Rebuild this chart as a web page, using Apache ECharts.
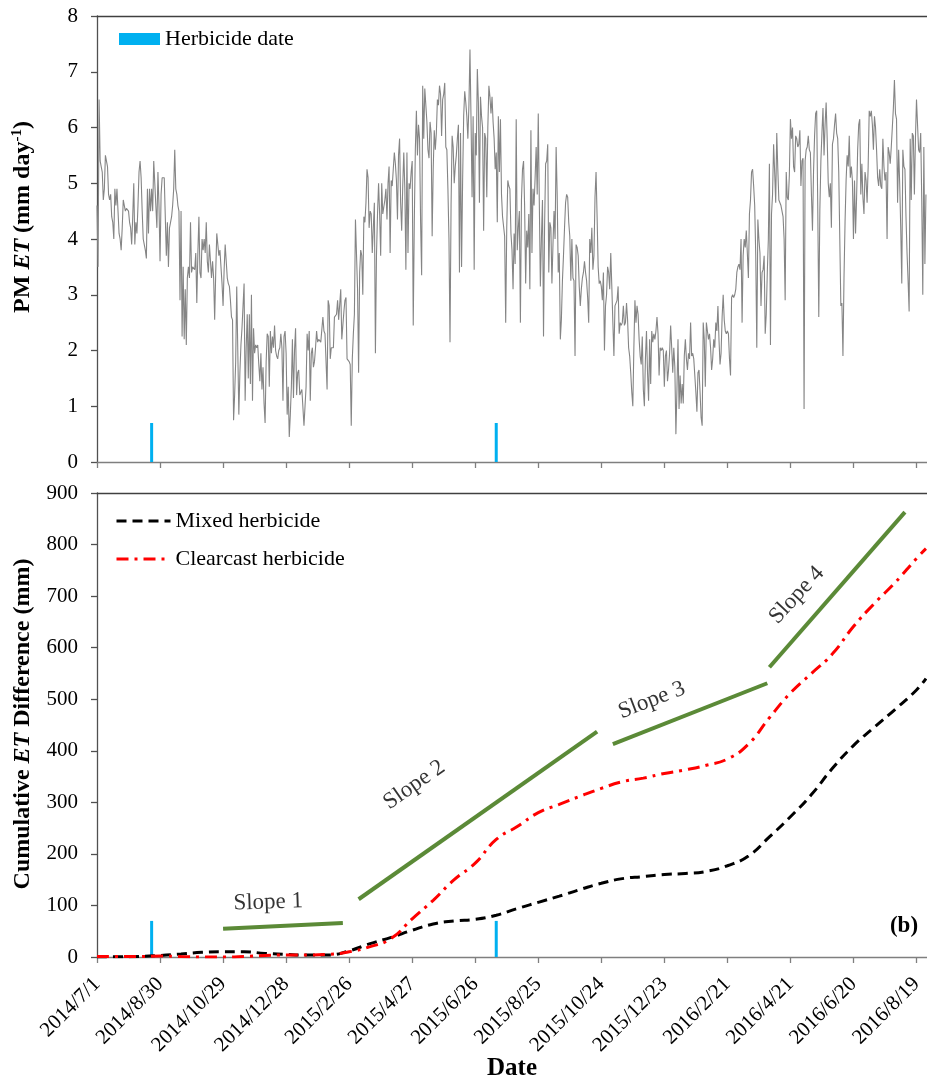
<!DOCTYPE html>
<html>
<head>
<meta charset="utf-8">
<script src="https://cdn.jsdelivr.net/npm/echarts@6/dist/echarts.min.js"></script>
<style>
html, body { margin: 0; padding: 0; background: #ffffff; }
#chart { width: 927px; height: 1080px; }
</style>
</head>
<body>
<div id="chart"></div>
<script>
// ---- data -------------------------------------------------------------
const startDate = '2014/7/1';

const xTickLabels = ['2014/7/1', '2014/8/30', '2014/10/29', '2014/12/28', '2015/2/26',
  '2015/4/27', '2015/6/26', '2015/8/25', '2015/10/24', '2015/12/23', '2016/2/21',
  '2016/4/21', '2016/6/20', '2016/8/19'];

// Daily Penman-Monteith ET (mm/day), one value per day from 2014/7/1
const pmEt = [
  4.6,3.5,6.5,5.4,5.3,5.2,4.7,4.9,5.5,5.5,
  5.3,4.8,4.7,4.8,4.4,4.3,4.0,4.9,4.6,4.9,
  4.5,4.1,4.0,3.8,4.2,4.7,4.6,4.5,4.55,4.55,
  4.5,4.3,4.2,3.9,4.4,5.0,3.9,4.3,4.1,4.6,
  5.2,5.4,5.1,4.5,4.0,3.9,3.8,3.65,4.9,4.1,
  4.9,4.5,4.9,4.5,5.4,5.0,4.6,4.2,5.2,4.6,
  3.6,4.8,5.1,5.1,5.1,5.1,3.7,4.3,3.5,4.2,
  4.3,4.4,4.6,4.9,5.6,4.9,4.8,4.6,4.5,2.9,
  4.5,2.25,3.5,2.2,3.1,2.1,3.3,3.5,3.3,4.3,
  3.4,3.5,3.5,3.45,3.75,2.85,3.75,4.4,3.4,3.3,
  4.0,3.8,4.0,3.75,4.3,3.6,3.4,3.9,3.9,3.3,
  3.6,3.3,2.55,3.4,4.1,4.1,3.7,3.8,3.5,3.2,
  2.8,3.45,3.9,3.6,3.3,3.2,3.15,2.9,2.6,2.55,
  0.75,1.2,1.8,3.15,3.15,0.85,1.6,2.1,2.4,2.4,
  3.2,1.1,2.05,2.65,1.5,2.65,1.4,3.0,1.1,2.4,
  1.95,2.1,2.05,2.1,1.75,1.45,1.95,1.3,1.7,1.05,
  0.7,1.8,2.3,2.25,1.35,2.35,1.95,2.25,2.05,2.45,
  2.0,1.9,1.85,2.0,2.05,2.3,2.05,1.1,2.25,2.35,
  1.95,0.85,1.35,0.45,0.85,1.35,2.2,1.15,2.0,2.4,
  1.2,1.6,1.65,1.2,1.25,1.3,1.3,0.65,1.0,1.35,
  2.3,2.0,2.35,1.1,1.95,2.05,1.7,1.8,2.05,2.35,
  2.15,2.2,2.2,2.15,2.15,2.6,2.35,2.3,2.3,1.3,
  2.9,2.8,1.85,2.05,2.05,2.05,2.6,2.6,2.65,2.9,
  2.55,2.55,3.1,2.2,2.45,2.7,2.9,2.95,1.85,1.85,
  1.8,1.75,0.65,1.85,2.3,2.65,4.35,4.35,3.1,1.6,
  3.4,3.8,3.7,3.0,4.4,4.3,4.65,5.25,5.1,4.2,
  4.5,4.45,3.75,4.2,4.65,1.95,3.7,4.45,5.0,4.45,
  3.7,5.0,4.45,4.45,4.7,4.9,4.35,5.0,5.3,3.75,
  5.05,4.95,5.25,5.55,5.35,5.05,4.35,5.5,5.8,4.65,
  4.15,4.95,5.55,4.9,3.45,5.55,3.75,5.0,4.9,5.2,
  5.4,2.45,4.3,5.6,6.3,5.5,6.05,5.8,4.3,3.35,
  6.75,5.8,6.7,6.4,6.1,5.6,5.45,6.1,5.9,4.05,
  5.25,5.95,5.6,5.9,6.5,6.4,6.75,6.6,5.85,6.5,
  6.6,6.8,5.65,5.6,4.9,4.0,2.15,4.6,5.85,5.65,
  5.0,5.3,5.5,5.8,6.05,3.4,5.9,3.5,5.05,6.2,
  6.65,6.45,6.2,5.8,6.4,7.4,6.15,4.75,6.2,3.45,
  5.9,5.5,7.05,6.45,4.65,6.55,6.2,6.0,4.15,5.9,
  5.8,4.75,6.0,6.75,6.55,6.25,6.55,6.1,5.8,5.25,
  5.55,4.3,6.2,5.2,6.15,4.8,4.4,4.4,4.05,2.5,
  4.2,5.05,4.95,4.9,4.1,3.8,3.1,4.1,3.55,6.15,
  3.8,4.2,4.5,2.5,4.7,5.25,5.4,4.6,3.2,4.15,
  3.85,4.45,3.1,5.95,3.75,4.9,4.6,5.1,5.65,4.8,
  6.25,4.65,3.15,4.0,4.7,2.25,4.2,5.35,5.4,5.7,
  3.4,4.3,4.2,3.2,3.9,4.5,4.0,5.65,4.8,3.4,
  3.75,2.2,2.55,3.25,3.7,4.2,4.65,4.8,4.75,4.3,
  4.05,3.25,4.0,3.3,3.25,1.9,3.9,3.85,3.7,3.15,
  2.8,3.1,3.3,3.4,3.6,3.4,3.25,2.95,2.5,4.0,
  3.75,4.2,3.45,3.7,4.75,5.2,4.4,3.5,3.2,3.25,
  3.15,2.9,3.4,2.0,2.8,3.0,3.5,3.4,3.1,3.75,
  3.15,2.5,1.9,2.8,2.85,2.9,3.15,2.3,2.5,2.45,
  2.5,2.8,2.45,2.5,2.85,2.55,2.05,1.9,1.6,1.25,
  1.0,2.05,2.9,2.5,2.8,2.65,2.2,1.9,1.75,2.25,
  1.3,1.0,1.85,2.35,1.6,1.1,2.2,1.4,2.35,2.15,
  2.3,2.2,2.35,2.6,2.3,1.55,2.05,2.0,2.05,2.0,
  1.35,1.9,2.0,1.45,1.65,1.95,2.45,2.05,1.6,2.05,
  1.7,0.5,1.3,2.2,0.95,1.55,1.05,1.4,1.05,1.9,
  2.2,1.85,1.65,1.95,1.85,2.5,1.9,1.95,1.85,1.55,
  1.25,0.9,1.6,1.65,1.25,0.8,0.65,2.5,2.2,1.35,
  2.5,2.35,2.2,2.3,2.05,1.65,1.85,2.2,2.05,2.5,
  2.35,2.8,2.2,1.75,1.95,2.6,3.0,2.55,2.35,2.3,
  2.35,2.3,1.85,1.55,2.95,3.0,2.95,3.0,3.1,3.4,
  3.5,3.55,3.45,4.0,2.5,3.7,4.0,3.85,4.15,3.75,
  3.3,4.45,4.7,5.2,5.25,4.95,4.6,3.7,2.05,4.35,
  4.0,3.75,2.8,3.4,3.45,3.7,2.3,2.65,3.4,4.0,
  5.35,2.1,4.45,4.8,5.7,5.2,4.65,5.9,5.25,4.7,
  4.65,4.6,4.5,4.4,4.0,2.9,5.2,4.75,4.7,5.15,
  6.15,5.8,6.0,5.3,5.2,5.85,5.8,5.65,5.7,5.95,
  4.95,5.4,5.45,0.95,5.4,5.6,5.65,5.85,5.6,5.55,
  4.8,4.15,5.2,5.85,6.25,6.3,4.6,2.6,4.5,5.4,
  5.9,6.35,5.5,6.05,6.45,5.8,5.0,4.75,5.0,4.2,
  5.7,5.8,6.05,6.25,5.9,5.8,5.2,4.0,2.8,2.85,
  1.9,3.3,4.3,5.05,5.5,5.3,5.85,5.1,5.3,5.05,
  4.0,5.05,4.1,4.75,5.6,6.05,6.15,4.8,5.35,4.75,
  4.45,5.2,5.05,4.65,5.3,6.3,6.2,6.3,6.05,5.6,
  6.2,6.0,5.6,5.1,4.95,5.25,4.95,4.9,5.8,5.3,
  5.05,5.2,4.0,5.65,5.55,5.35,5.65,6.0,6.35,6.85,
  6.25,6.15,4.65,5.6,5.0,4.2,3.2,5.6,5.3,5.25,
  4.4,3.75,3.25,2.7,5.8,4.7,5.9,5.85,4.8,5.8,
  6.5,6.05,5.6,5.55,5.9,4.7,3.0,5.65,3.55,4.8
];

// Herbicide application dates and the height of their markers in each panel
const herbicideDates = ['2014/8/22', '2015/7/16'];
const herbicideMarkEt = 0.7;
const herbicideMarkCum = 70;

// Cumulative ET difference (mm), sampled in days since 2014/7/1
const cumDays = [0, 20, 40, 60, 80, 100, 120, 140, 160, 180, 200, 220, 240, 260, 280, 300,
  320, 340, 360, 380, 400, 420, 440, 460, 480, 500, 520, 540, 560, 580, 600, 620, 640, 660,
  680, 700, 720, 740, 760, 780, 789];
const mixedCum = [0, 0.5, 1, 3, 6, 9, 10, 10, 7, 5, 4, 4, 12, 26, 38, 52, 64, 70, 73, 81,
  94, 106, 118, 131, 143, 152, 156, 160, 162, 166, 177, 196, 233, 272, 315, 366, 410, 446,
  481, 518, 540];
const clearcastCum = [1, 1, 1, 2, 1, 0, 0, 1, 3, 4, 4, 5, 10, 20, 36, 74, 110, 150, 182,
  228, 253, 280, 296, 312, 327, 340, 347, 356, 363, 372, 384, 413, 464, 512, 550, 588, 641,
  686, 727, 773, 792];

// Fitted slope segments: [day, mm] at start and end, plus the spot of each label
const slopeNames = ['Slope 1', 'Slope 2', 'Slope 3', 'Slope 4'];
const slopeStart = [[120, 55], [249, 112], [491, 413], [640, 562]];
const slopeEnd = [[234, 66], [476, 437], [638, 531], [769, 863]];
const slopeLabelAt = [[163, 106], [302, 334], [528, 498], [666, 702]];

// ---- helpers ----------------------------------------------------------
const DAY_MS = 86400000;
function toUTC(s) { const p = s.split('/').map(Number); return Date.UTC(p[0], p[1] - 1, p[2]); }
const t0 = toUTC(startDate);
function dayOf(s) { return Math.round((toUTC(s) - t0) / DAY_MS); }
function dateOf(day) {
  const d = new Date(t0 + Math.round(day) * DAY_MS);
  return d.getUTCFullYear() + '/' + (d.getUTCMonth() + 1) + '/' + d.getUTCDate();
}

// ---- chart ------------------------------------------------------------
const FONT = 'Liberation Serif';
const X_MAX = 790;
const tickDays = xTickLabels.map(dayOf);
const herbDays = herbicideDates.map(dayOf);
const slopeLabelAngle = [2, 35, 21, 47];
const GREEN = '#5b8a37';

function dateAxis(gridIndex, withLabels) {
  return {
    type: 'value', gridIndex: gridIndex, min: 0, max: X_MAX, interval: 60,
    axisLine: { show: true, onZero: false, lineStyle: { color: '#7f7f7f', width: 1.3 } },
    axisTick: { show: true, length: 6, customValues: tickDays, lineStyle: { color: '#7f7f7f', width: 1.3 } },
    axisLabel: withLabels ? {
      show: true, customValues: tickDays, rotate: 45, margin: 24,
      formatter: function (v) { return dateOf(v); },
      fontFamily: FONT, fontSize: 21, color: '#000'
    } : { show: false },
    splitLine: { show: false },
    name: withLabels ? 'Date' : '',
    nameLocation: 'middle', nameGap: 99, nameMoveOverlap: false,
    nameTextStyle: { fontFamily: FONT, fontSize: 25, fontWeight: 'bold', color: '#000' }
  };
}
function frameAxis(gridIndex) {
  return {
    type: 'value', gridIndex: gridIndex, position: 'top', min: 0, max: X_MAX,
    axisLine: { show: true, onZero: false, lineStyle: { color: '#404040', width: 1.3 } },
    axisTick: { show: false }, axisLabel: { show: false }, splitLine: { show: false }
  };
}
function valueAxis(gridIndex, max, interval, margin) {
  return {
    type: 'value', gridIndex: gridIndex, min: 0, max: max, interval: interval,
    axisLine: { show: true, lineStyle: { color: '#505050', width: 1.3 } },
    axisTick: { show: true, length: 6, lineStyle: { color: '#505050', width: 1.3 } },
    axisLabel: { fontFamily: FONT, fontSize: 21, color: '#000', margin: margin },
    splitLine: { show: false }
  };
}

const richTitle = {
  b: { fontFamily: FONT, fontSize: 24, fontWeight: 'bold', color: '#000', lineHeight: 26 },
  bi: { fontFamily: FONT, fontSize: 24, fontWeight: 'bold', fontStyle: 'italic', color: '#000', lineHeight: 26 },
  s: { fontFamily: FONT, fontSize: 15, fontWeight: 'bold', color: '#000', verticalAlign: 'top', lineHeight: 26 }
};

const series = [
  {
    name: 'PM ET', type: 'line', xAxisIndex: 0, yAxisIndex: 0, symbol: 'none',
    data: pmEt.map(function (v, i) { return [i, v]; }),
    lineStyle: { color: '#858585', width: 1.1 }, z: 2
  },
  {
    name: 'Herbicide date', type: 'bar', xAxisIndex: 0, yAxisIndex: 0, barWidth: 3,
    data: herbDays.map(function (d) { return [d, herbicideMarkEt]; }),
    itemStyle: { color: '#00b0f0' }, z: 3
  },
  {
    name: 'Herbicide date', type: 'bar', xAxisIndex: 2, yAxisIndex: 1, barWidth: 3,
    data: herbDays.map(function (d) { return [d, herbicideMarkCum]; }),
    itemStyle: { color: '#00b0f0' }, z: 3
  },
  {
    name: 'Mixed herbicide', type: 'line', xAxisIndex: 2, yAxisIndex: 1, symbol: 'none',
    smooth: 0.5,
    data: cumDays.map(function (d, i) { return [d, mixedCum[i]]; }),
    lineStyle: { color: '#000000', width: 3, type: [10, 6] }, itemStyle: { color: '#000000' }, z: 4
  },
  {
    name: 'Clearcast herbicide', type: 'line', xAxisIndex: 2, yAxisIndex: 1, symbol: 'none',
    smooth: 0.5,
    data: cumDays.map(function (d, i) { return [d, clearcastCum[i]]; }),
    lineStyle: { color: '#ff0000', width: 3, type: [12, 6, 3, 6] }, itemStyle: { color: '#ff0000' }, z: 4
  }
];
slopeNames.forEach(function (n, i) {
  series.push({
    name: n, type: 'line', xAxisIndex: 2, yAxisIndex: 1, symbol: 'none',
    data: [slopeStart[i], slopeEnd[i]],
    lineStyle: { color: GREEN, width: 4 }, z: 5
  });
});
series.push({
  name: 'slope labels', type: 'scatter', xAxisIndex: 2, yAxisIndex: 1,
  symbol: 'circle', symbolSize: 1, silent: true,
  itemStyle: { color: 'rgba(0,0,0,0)' },
  data: slopeNames.map(function (n, i) {
    return { name: n, value: slopeLabelAt[i], label: { rotate: slopeLabelAngle[i] } };
  }),
  label: {
    show: true, position: 'inside', formatter: '{b}', align: 'center', verticalAlign: 'middle',
    fontFamily: FONT, fontSize: 23, color: '#000'
  },
  z: 6
});

const chart = echarts.init(document.getElementById('chart'), null, { renderer: 'canvas' });
chart.setOption({
  animation: false,
  backgroundColor: '#ffffff',
  textStyle: { fontFamily: FONT },
  grid: [
    { left: 97, right: 0, top: 16, height: 446, outerBoundsMode: 'none' },
    { left: 97, right: 0, top: 493, height: 464, outerBoundsMode: 'none' }
  ],
  xAxis: [dateAxis(0, false), frameAxis(0), dateAxis(1, true), frameAxis(1)],
  yAxis: [valueAxis(0, 8, 1, 19), valueAxis(1, 900, 100, 19)],
  legend: [
    {
      data: ['Herbicide date'], left: 114, top: 23, icon: 'rect', itemWidth: 41, itemHeight: 12,
      selectedMode: false, textStyle: { fontFamily: FONT, fontSize: 22, color: '#000' }
    },
    {
      data: ['Mixed herbicide', 'Clearcast herbicide'], orient: 'vertical', left: 110, top: 505,
      itemWidth: 54, itemHeight: 14, itemGap: 16, selectedMode: false,
      itemStyle: { opacity: 0 },
      lineStyle: { width: 3 },
      textStyle: { fontFamily: FONT, fontSize: 22, color: '#000' }
    }
  ],
  graphic: [
    {
      type: 'text', x: 23, y: 217, rotation: Math.PI / 2,
      style: { text: '{b|PM }{bi|ET}{b| (mm day}{s|-1}{b|)}', rich: richTitle, align: 'center', verticalAlign: 'middle' }
    },
    {
      type: 'text', x: 23, y: 724, rotation: Math.PI / 2,
      style: { text: '{b|Cumulative }{bi|ET}{b| Difference (mm)}', rich: richTitle, align: 'center', verticalAlign: 'middle' }
    },
    {
      type: 'text', x: 904, y: 926,
      style: { text: '(b)', font: 'bold 23px "Liberation Serif"', fill: '#000', align: 'center', verticalAlign: 'middle' }
    }
  ],
  series: series
});
</script>
</body>
</html>
